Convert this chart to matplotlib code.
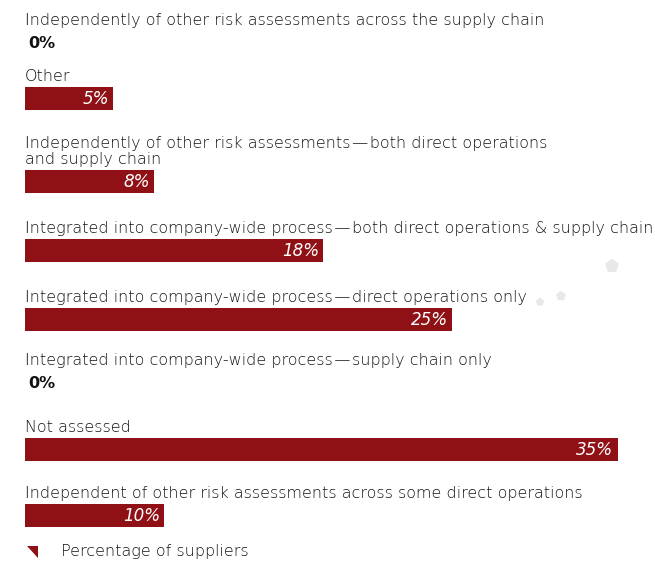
import matplotlib
matplotlib.use("Agg")
import matplotlib.pyplot as plt
import numpy as np

categories = [
    "Independently of other risk assessments across the supply chain",
    "Other",
    "Independently of other risk assessments\u200a\u2014\u200aboth direct operations\nand supply chain",
    "Integrated into company-wide process\u200a\u2014\u200aboth direct operations & supply chain",
    "Integrated into company-wide process\u200a\u2014\u200adirect operations only",
    "Integrated into company-wide process\u200a\u2014\u200asupply chain only",
    "Not assessed",
    "Independent of other risk assessments across some direct operations",
]
values = [0, 5.2, 7.6, 17.6, 25.2, 0, 35.0, 8.2]
value_labels = ["0%", "5%", "8%", "18%", "25%", "0%", "35%", "10%"]
legend_label = "Percentage of suppliers"

BAR = "#8f1116"
TXT = "#141414"
plt.rcParams['font.family'] = ['DejaVu Sans']

W, H = 655, 565
fig = plt.figure(figsize=(W / 100, H / 100), dpi=100)
ax = fig.add_axes([0, 0, 1, 1])
px_per_unit = 16.93
left_px = 25
ax.set_xlim(-left_px / px_per_unit, (W - left_px) / px_per_unit)
ax.set_ylim(H, 0)
ax.axis("off")

# vertical layout (pixels)
gaps = [0, 55.5, 83, 69, 69, 63.5, 66.5, 66]
centers = 43 + np.cumsum(gaps)
bar_h = 23

ax.barh(centers, values, height=bar_h, left=0, color=BAR, edgecolor="none")

fs = 11.55
for c, cat, v, lab in zip(centers, categories, values, value_labels):
    ax.text(0, c - bar_h / 2 - 3, cat, ha="left", va="bottom", fontsize=fs,
            color=TXT, linespacing=1.05, fontweight="light")
    if v > 0:
        ax.text(v - 4 / px_per_unit, c + 0.5, lab, ha="right", va="center",
                fontsize=fs + 0.5, color="white", style="oblique")
    else:
        ax.text(3 / px_per_unit, c, lab, ha="left", va="center",
                fontsize=fs, color="#111111", fontweight="bold")

# legend
ly = centers[-1] + 36
lx0 = 2 / px_per_unit
tri_w = 11 / px_per_unit
ax.fill([lx0, lx0 + tri_w, lx0 + tri_w], [ly - 6, ly - 6, ly + 6], color=BAR, lw=0)
ax.text(36 / px_per_unit, ly, legend_label, ha="left", va="center", fontsize=fs,
        color=TXT, fontweight="light")

# faint watermark shapes
ax.scatter([587 / px_per_unit, 515 / px_per_unit, 536 / px_per_unit],
           [266, 302, 296], marker="p", s=[110, 40, 55], color="#e8e8e8", lw=0)

fig.savefig("out.png", dpi=100)
